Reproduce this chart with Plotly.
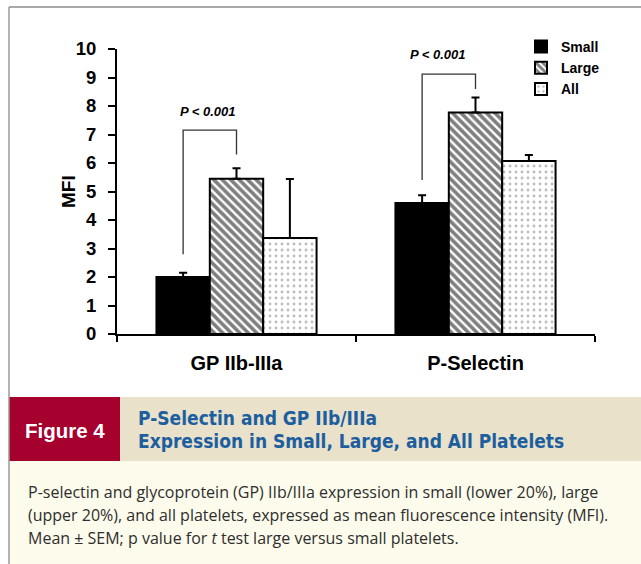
import plotly.graph_objects as go

# ---- data ----
categories = ["GP IIb-IIIa", "P-Selectin"]
series_names = ["Small", "Large", "All"]
small_mfi = [2.0, 4.6]
large_mfi = [5.45, 7.77]
all_mfi = [3.37, 6.07]
small_sem = [0.15, 0.27]
large_sem = [0.37, 0.53]
all_sem = [2.07, 0.21]
y_ticks = [0, 1, 2, 3, 4, 5, 6, 7, 8, 9, 10]

# significance brackets: (left x, right x, left foot y, top y, right foot y)
brackets = [
    (-0.2233, 0.0, 2.8, 7.15, 6.3),
    (0.7767, 1.0, 5.4, 9.12, 8.6),
]
p_label = "P < 0.001"
p_label_pos = [(-0.12, 7.82), (0.845, 9.82)]

fig_label = "Figure 4"
fig_title = ["P-Selectin and GP IIb/IIIa", "Expression in Small, Large, and All Platelets"]
caption = [
    "P-selectin and glycoprotein (GP) IIb/IIIa expression in small (lower 20%), large",
    "(upper 20%), and all platelets, expressed as mean fluorescence intensity (MFI).",
    "Mean \u00b1 SEM; p value for <i>t</i> test large versus small platelets.",
]

W, H = 641, 564
ML, MR, MT, MB = 117, 46, 49, 230
PW, PH = W - ML - MR, H - MT - MB


def xp(px):
    return (px - ML) / PW


def yp(py):
    return (H - MB - py) / PH


BOLD = "Arial, Liberation Sans, sans-serif"

fig = go.Figure()

styles = [
    dict(color="black"),
    dict(color="white", pattern=dict(shape="\\", fgcolor="black", bgcolor="white", size=6, solidity=0.6)),
    dict(color="white", pattern=dict(shape=".", fgcolor="#7a7a7a", bgcolor="white", size=6, solidity=0.18)),
]
for name, vals, errs, st in zip(series_names, [small_mfi, large_mfi, all_mfi],
                                 [small_sem, large_sem, all_sem], styles):
    fig.add_trace(go.Bar(
        name=name, x=categories, y=vals,
        marker=dict(**st, line=dict(color="black", width=2)),
        error_y=dict(type="data", array=errs, arrayminus=[0] * len(errs), symmetric=False,
                     color="black", thickness=2, width=4),
    ))

shapes = []
# significance brackets
for x0, x1, yl, yt, yr in brackets:
    shapes.append(dict(type="path", xref="x", yref="y",
                       path=f"M {x0},{yl} L {x0},{yt} L {x1},{yt} L {x1},{yr}",
                       line=dict(color="#333333", width=1.3)))

# outer frame and figure caption panels
shapes += [
    dict(type="rect", xref="paper", yref="paper", x0=xp(120), x1=xp(W), y0=yp(461), y1=yp(397),
         fillcolor="#E9E1CA", line=dict(width=0), layer="above"),
    dict(type="rect", xref="paper", yref="paper", x0=xp(9), x1=xp(120), y0=yp(461), y1=yp(397),
         fillcolor="#A6002F", line=dict(width=0), layer="above"),
    dict(type="rect", xref="paper", yref="paper", x0=xp(9), x1=xp(W), y0=yp(H), y1=yp(461),
         fillcolor="#FDFBEC", line=dict(width=0), layer="above"),
    dict(type="line", xref="paper", yref="paper", x0=xp(9), x1=xp(W), y0=yp(7), y1=yp(7),
         line=dict(color="#8c8c8c", width=1.5)),
    dict(type="line", xref="paper", yref="paper", x0=xp(9), x1=xp(9), y0=yp(7), y1=yp(H),
         line=dict(color="#9a9a9a", width=1.5)),
]

annotations = []
for (ax, ay) in p_label_pos:
    annotations.append(dict(x=ax, y=ay, xref="x", yref="y", text=f"<b><i>{p_label}</i></b>",
                            showarrow=False, xanchor="center", yanchor="middle",
                            font=dict(family=BOLD, size=13, color="black")))

annotations.append(dict(x=xp(68), y=yp(192), xref="paper", yref="paper", text="<b>MFI</b>",
                        textangle=-90, showarrow=False, xanchor="center", yanchor="middle",
                        font=dict(family=BOLD, size=19, color="black")))

annotations.append(dict(x=xp(65), y=yp(430), xref="paper", yref="paper", text=f"<b>{fig_label}</b>",
                        showarrow=False, xanchor="center", yanchor="middle",
                        font=dict(family=BOLD, size=20.5, color="white")))
for i, line in enumerate(fig_title):
    annotations.append(dict(x=xp(136), y=yp(418 + 23 * i), xref="paper", yref="paper",
                            text=f"<b>{line}</b>", showarrow=False, xanchor="left", yanchor="middle",
                            font=dict(family="Liberation Sans Narrow, DejaVu Sans Condensed, Arial",
                                      size=19, color="#1D5E9E")))
for i, line in enumerate(caption):
    annotations.append(dict(x=xp(26), y=yp(492 + 23 * i), xref="paper", yref="paper",
                            text=line, showarrow=False, xanchor="left", yanchor="middle",
                            font=dict(family="Open Sans, Liberation Sans, Arial", size=16,
                                      color="#2e2e2e")))

fig.update_layout(
    width=W, height=H,
    margin=dict(l=ML, r=MR, t=MT, b=MB, pad=0),
    paper_bgcolor="white", plot_bgcolor="white",
    barmode="group", bargap=0.33, bargroupgap=0,
    shapes=shapes, annotations=annotations,
    legend=dict(x=xp(521), y=yp(31), xanchor="left", yanchor="top",
                font=dict(family=BOLD, size=14, color="black", weight="bold"),
                bgcolor="rgba(0,0,0,0)", tracegroupgap=0, itemwidth=30),
    showlegend=True,
)
fig.update_xaxes(
    range=[-0.5, 1.5], showline=True, linecolor="black", linewidth=2,
    ticks="outside", tickson="boundaries", ticklen=6, tickwidth=2, tickcolor="black",
    tickfont=dict(family=BOLD, size=20, color="black", weight="bold"), ticklabelstandoff=10,
    showgrid=False, zeroline=False,
)
fig.update_yaxes(
    range=[0, 10], tickvals=y_ticks, showline=True, linecolor="black", linewidth=2,
    ticks="outside", ticklen=7, tickwidth=2, tickcolor="black",
    tickfont=dict(family=BOLD, size=18.5, color="black", weight="bold"), ticklabelstandoff=8,
    showgrid=False, zeroline=False,
)

fig.write_html("out.html")
